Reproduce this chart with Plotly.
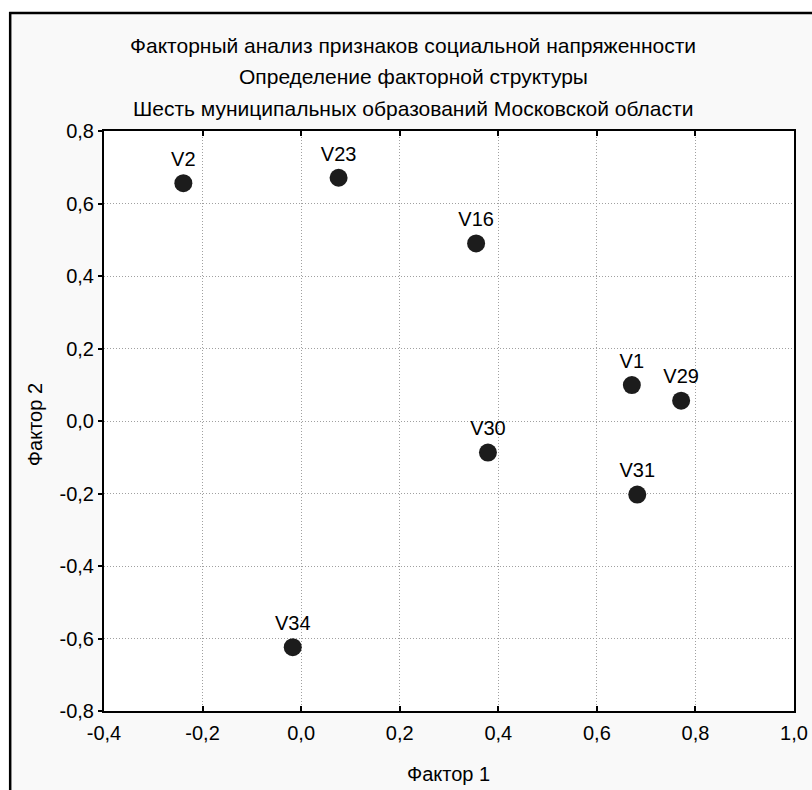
import plotly.graph_objects as go

# Data
labels = ["V1", "V2", "V16", "V23", "V29", "V30", "V31", "V34"]
factor1 = [0.671, -0.239, 0.355, 0.076, 0.771, 0.379, 0.682, -0.017]
factor2 = [0.099, 0.656, 0.490, 0.671, 0.056, -0.087, -0.203, -0.624]

x_tick_vals = [-0.4, -0.2, 0.0, 0.2, 0.4, 0.6, 0.8, 1.0]
x_tick_text = ["-0,4", "-0,2", "0,0", "0,2", "0,4", "0,6", "0,8", "1,0"]
y_tick_vals = [-0.8, -0.6, -0.4, -0.2, 0.0, 0.2, 0.4, 0.6, 0.8]
y_tick_text = ["-0,8", "-0,6", "-0,4", "-0,2", "0,0", "0,2", "0,4", "0,6", "0,8"]

title_lines = [
    "Факторный анализ признаков социальной напряженности",
    "Определение факторной структуры",
    "Шесть муниципальных образований Московской области",
]
x_title = "Фактор 1"
y_title = "Фактор 2"

FONT = "Liberation Sans, Arial, sans-serif"
FS = 20
SX = 820 / 812  # horizontal compensation observed in the rendered output
W, H = 820, 790
ML = round(103 * SX)
PR = round(794 * SX)
MT, PB = 131, 711
MR, MB = W - PR, H - PB
PW, PH = W - ML - MR, H - MT - MB


def px_x(p):
    return (p * SX - ML) / PW


def px_y(p):
    return (H - MB - p) / PH


fig = go.Figure()
fig.add_trace(go.Scatter(
    x=factor1, y=factor2, text=labels,
    mode="markers+text", textposition="top center",
    marker=dict(size=18, color="#1c1c1c"),
    textfont=dict(family=FONT, size=FS, color="#000000"),
    cliponaxis=False, showlegend=False, hoverinfo="skip",
))

axis_common = dict(
    showline=True, linecolor="#000000", linewidth=2,
    showgrid=True, gridcolor="#a0a0a0", gridwidth=1, griddash="1px,2px",
    zeroline=False,
    tickfont=dict(family=FONT, size=FS, color="#000000"),
    tickcolor="#000000", tickwidth=2,
)

fig.update_xaxes(
    range=[-0.4, 1.0], tickmode="array", tickvals=x_tick_vals, ticktext=x_tick_text,
    ticks="inside", ticklen=5, mirror="ticks", ticklabelstandoff=3,
    **axis_common,
)
fig.update_yaxes(
    range=[-0.8, 0.8], tickmode="array", tickvals=y_tick_vals, ticktext=y_tick_text,
    ticks="outside", ticklen=4, mirror=True,
    **axis_common,
)

annotations = []
for line, py in zip(title_lines, [45, 77, 108]):
    annotations.append(dict(
        text=line, xref="paper", yref="paper", x=px_x(413), y=px_y(py),
        xanchor="center", yanchor="middle", showarrow=False,
        font=dict(family=FONT, size=21, color="#000000"),
    ))
annotations.append(dict(
    text=x_title, xref="paper", yref="paper", x=px_x(448), y=px_y(774),
    xanchor="center", yanchor="middle", showarrow=False,
    font=dict(family=FONT, size=FS, color="#000000"),
))
annotations.append(dict(
    text=y_title, xref="paper", yref="paper", x=px_x(34), y=px_y(425),
    xanchor="center", yanchor="middle", showarrow=False, textangle=-90,
    font=dict(family=FONT, size=FS, color="#000000"),
))

shapes = [
    # white strip above / left of the outer frame
    dict(type="rect", xref="paper", yref="paper", x0=px_x(-20), x1=px_x(900),
         y0=px_y(12), y1=px_y(-20), fillcolor="#ffffff", line=dict(width=0), layer="below"),
    dict(type="rect", xref="paper", yref="paper", x0=px_x(-20), x1=px_x(8),
         y0=px_y(900), y1=px_y(-20), fillcolor="#ffffff", line=dict(width=0), layer="below"),
    # outer frame lines (top and left)
    dict(type="line", xref="paper", yref="paper", x0=px_x(8), x1=px_x(900),
         y0=px_y(13), y1=px_y(13), line=dict(color="#000000", width=2.5)),
    dict(type="line", xref="paper", yref="paper", x0=px_x(9), x1=px_x(9),
         y0=px_y(12), y1=px_y(900), line=dict(color="#000000", width=2.5)),
]

fig.update_layout(
    width=W, height=H, autosize=False,
    margin=dict(l=ML, r=MR, t=MT, b=MB, pad=0),
    paper_bgcolor="#f9f9f9", plot_bgcolor="#ffffff",
    font=dict(family=FONT, size=FS, color="#000000"),
    annotations=annotations, shapes=shapes,
)

fig.write_html(
    "out.html",
    config={"displayModeBar": False},
    post_script="document.body.style.margin='0';document.body.style.overflow='hidden';",
)
